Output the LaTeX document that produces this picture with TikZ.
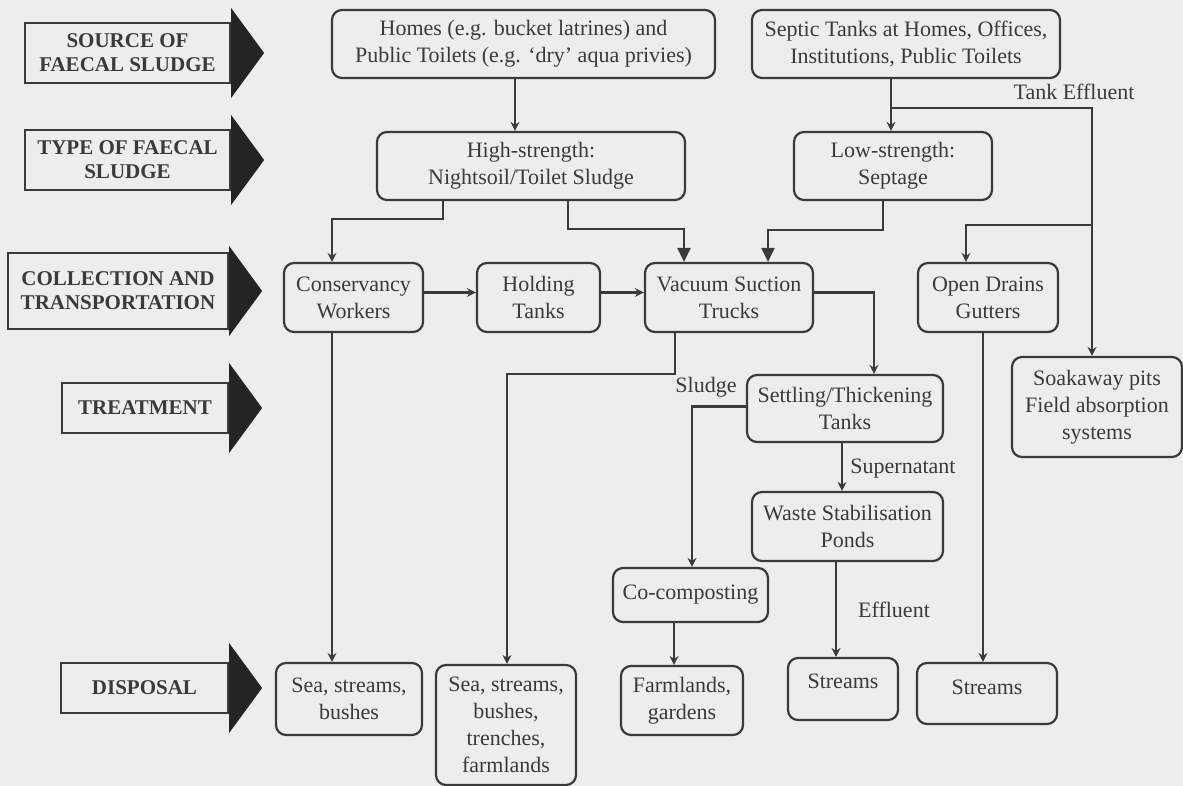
\documentclass[tikz,border=0pt]{standalone}
\usepackage{fontspec}
\setmainfont{Liberation Serif}
\usetikzlibrary{arrows.meta}
\definecolor{paper}{RGB}{237,237,237}
\definecolor{ink}{RGB}{58,58,58}
\definecolor{wedge}{RGB}{36,36,36}
\tikzset{
  box/.style={draw=ink, line width=1.1pt, rounded corners=5pt, align=center,
    text=ink, font=\fontsize{11}{13.5}\selectfont, inner sep=2pt},
  stage/.style={draw=ink, line width=1.1pt, align=center, text=ink,
    font=\fontsize{10.5}{12}\selectfont\bfseries, inner sep=2pt},
  flow/.style={draw=ink, line width=1.1pt, -{Stealth[length=4.5pt,width=4.5pt]}},
  bigflow/.style={draw=ink, line width=1.1pt, -{Triangle[length=7pt,width=6.5pt]}},
  tag/.style={text=ink, font=\fontsize{11}{13.5}\selectfont, inner sep=0pt}
}
\begin{document}
\begin{tikzpicture}[x=0.5pt,y=-0.5pt]
\useasboundingbox (0,0) rectangle (1183,786);
\fill[paper] (0,0) rectangle (1183,786);

% stage labels on the left
\node[stage, minimum width=102.5pt, minimum height=30pt] (src) at (127.5,53) {SOURCE OF\\FAECAL SLUDGE};
\node[stage, minimum width=102.5pt, minimum height=30pt] (typ) at (127.5,160) {TYPE OF FAECAL\\SLUDGE};
\node[stage, minimum width=110pt, minimum height=38pt] (col) at (118,291) {COLLECTION AND\\TRANSPORTATION};
\node[stage, minimum width=83pt, minimum height=25pt] (trt) at (145,408) {TREATMENT};
\node[stage, minimum width=83.5pt, minimum height=25pt] (dsp) at (144.5,688) {DISPOSAL};
\foreach \s in {src,typ,col,trt,dsp}{
  \fill[wedge] ([shift={(0,-45)}]\s.east) -- ([shift={(33,0)}]\s.east) -- ([shift={(0,45)}]\s.east) -- cycle;
}

% process boxes
\node[box, minimum width=191.5pt, minimum height=34pt] (homes) at (523.5,44) {Homes (e.g. bucket latrines) and\\Public Toilets (e.g. `dry' aqua privies)};
\node[box, minimum width=154pt, minimum height=34pt] (septic) at (906,44) {Septic Tanks at Homes, Offices,\\Institutions, Public Toilets};
\node[box, minimum width=154pt, minimum height=34pt] (high) at (531,166) {High-strength:\\Nightsoil/Toilet Sludge};
\node[box, minimum width=99pt, minimum height=34pt] (low) at (893,166) {Low-strength:\\Septage};
\node[box, minimum width=69.5pt, minimum height=34.5pt] (cons) at (353.5,297.5) {Conservancy\\Workers};
\node[box, minimum width=61.5pt, minimum height=34.5pt] (hold) at (538.5,297.5) {Holding\\Tanks};
\node[box, minimum width=84pt, minimum height=34.5pt] (vac) at (729,297.5) {Vacuum Suction\\Trucks};
\node[box, minimum width=70pt, minimum height=34.5pt] (open) at (988,297.5) {Open Drains\\Gutters};
\node[box, minimum width=85pt, minimum height=50pt] (soak) at (1097,407) {Soakaway pits\\Field absorption\\systems};
\node[box, minimum width=98pt, minimum height=33.5pt] (settle) at (845,408.5) {Settling/Thickening\\Tanks};
\node[box, minimum width=95.5pt, minimum height=34.5pt] (wsp) at (847.5,526.5) {Waste Stabilisation\\Ponds};
\node[box, minimum width=77.5pt, minimum height=27pt] (cocomp) at (690.5,595) {Co-composting};
\node[box, minimum width=73pt, minimum height=36pt] (d1) at (349,699) {Sea, streams,\\bushes};
\node[box, minimum width=70pt, minimum height=60pt] (d2) at (506,725) {Sea, streams,\\bushes,\\trenches,\\farmlands};
\node[box, minimum width=61pt, minimum height=34.5pt] (farm) at (682,700.5) {Farmlands,\\gardens};
\node[box, minimum width=55pt, minimum height=31pt, text depth=8pt] (s1) at (843,689) {Streams};
\node[box, minimum width=70pt, minimum height=30.5pt, text depth=6pt] (s2) at (987,693.5) {Streams};

% columns and junctions of the connectors
\coordinate (c332) at (332,0);
\coordinate (c443) at (443,0);
\coordinate (c507) at (507,0);
\coordinate (c515) at (515,0);
\coordinate (c568) at (568,0);
\coordinate (c674) at (674,0);
\coordinate (c675) at (675,0);
\coordinate (c684) at (684,0);
\coordinate (c692) at (692,0);
\coordinate (c768) at (768,0);
\coordinate (c836) at (836,0);
\coordinate (c842) at (842,0);
\coordinate (c874) at (874,0);
\coordinate (c883) at (883,0);
\coordinate (c891) at (891,0);
\coordinate (c966) at (966,0);
\coordinate (c983) at (983,0);
\coordinate (c1092) at (1092,0);
\coordinate (te) at (891,108);
\coordinate (od) at (1092,225);

% connectors
\draw[flow] (homes.south -| c515) -- (high.north -| c515);
\draw[flow] (septic.south -| c891) -- (low.north -| c891);
\draw[flow] (te) -| (soak.north -| c1092);
\draw[flow] (od) -| (open.north -| c966);
\draw[flow] (high.south -| c443) -- ++(0,18) -| (cons.north -| c332);
\draw[bigflow] (high.south -| c568) -- ++(0,28) -| (vac.north -| c684);
\draw[bigflow] (low.south -| c883) -- ++(0,29) -| (vac.north -| c768);
\draw[flow] ([yshift=2.5pt]cons.east) -- ([yshift=2.5pt]cons.east -| hold.west);
\draw[flow] ([yshift=2.5pt]hold.east) -- ([yshift=2.5pt]hold.east -| vac.west);
\draw[flow] ([yshift=2.5pt]vac.east) -| (settle.north -| c874);
\draw[flow] (vac.south -| c675) -- ++(0,41) -| (d2.north -| c507);
\draw[flow] ([yshift=1pt]settle.west) -| (cocomp.north -| c692);
\draw[flow] (settle.south -| c842) -- (wsp.north -| c842);
\draw[flow] (wsp.south -| c836) -- (s1.north -| c836);
\draw[flow] (open.south -| c983) -- (s2.north -| c983);
\draw[flow] (cocomp.south -| c674) -- (farm.north -| c674);
\draw[flow] (cons.south -| c332) -- (d1.north -| c332);

% stream labels
\node[tag] (lte) at (1074,92) {Tank Effluent};
\node[tag] (lsl) at (706,387) {Sludge};
\node[tag] (lsu) at (903,469) {Supernatant};
\node[tag] (lef) at (894,610) {Effluent};
\end{tikzpicture}
\end{document}
